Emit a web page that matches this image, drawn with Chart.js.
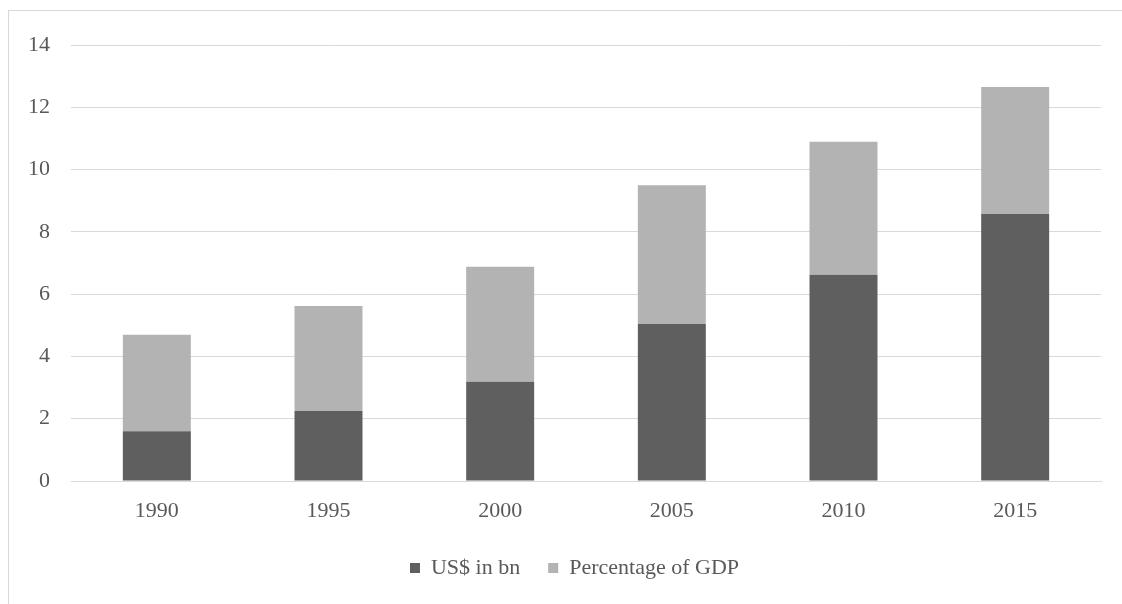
<!DOCTYPE html>
<html>
<head>
<meta charset="utf-8">
<script src="https://cdn.jsdelivr.net/npm/chart.js@4.4.1/dist/chart.umd.min.js"></script>
<style>
  html, body { margin: 0; padding: 0; background: #ffffff; }
  #wrap { position: relative; width: 1122px; height: 604px; overflow: hidden; }
  #frame { position: absolute; left: 8px; top: 10px; width: 1200px; height: 700px;
           border: 1px solid #d9d9d9; box-sizing: border-box; }
  #c { position: absolute; left: 0; top: 0; }
</style>
</head>
<body>
<div id="wrap">
  <div id="frame"></div>
  <canvas id="c" width="1122" height="604"></canvas>
</div>
<script>
// Categories and stacked series
const years = ['1990', '1995', '2000', '2005', '2010', '2015'];
const usdBn = [1.6, 2.25, 3.19, 5.04, 6.62, 8.57];
const pctGdp = [3.1, 3.37, 3.69, 4.46, 4.27, 4.08];
const yTickValues = [0, 2, 4, 6, 8, 10, 12, 14];

const FONT = '"Liberation Serif", "Times New Roman", serif';
const TEXT = '#595959';
const GRID = '#d9d9d9';

// Nudge the legend so it sits centred under the plot like the original layout
const legendShift = {
  id: 'legendShift',
  afterLayout(chart) {
    const lg = chart.legend;
    if (lg) { lg.left += 24; lg.right += 24; }
  }
};

new Chart(document.getElementById('c'), {
  type: 'bar',
  data: {
    labels: years,
    datasets: [
      { label: 'US$ in bn', data: usdBn, backgroundColor: '#5f5f5f',
        categoryPercentage: 1, barPercentage: 0.396 },
      { label: 'Percentage of GDP', data: pctGdp, backgroundColor: '#b3b3b3',
        categoryPercentage: 1, barPercentage: 0.396 }
    ]
  },
  options: {
    responsive: false,
    animation: false,
    layout: { padding: { left: 0, right: 21, top: 45, bottom: 15 } },
    plugins: {
      tooltip: { enabled: false },
      legend: {
        position: 'bottom',
        labels: {
          boxWidth: 10, boxHeight: 10, padding: 28,
          color: TEXT, font: { family: FONT, size: 22 }
        }
      }
    },
    scales: {
      x: {
        stacked: true,
        grid: { display: false, drawTicks: false },
        border: { display: true, color: GRID, width: 1 },
        ticks: { color: TEXT, font: { family: FONT, size: 22 }, padding: 17, maxRotation: 0 },
        afterFit: s => { s.height = 48; }
      },
      y: {
        stacked: true,
        min: 0, max: 14,
        afterBuildTicks: s => { s.ticks = yTickValues.map(v => ({ value: v })); },
        grid: { color: GRID, lineWidth: 1, drawTicks: false },
        border: { display: false },
        ticks: { color: TEXT, font: { family: FONT, size: 22 }, padding: 21 },
        afterFit: s => { s.width = 71; }
      }
    }
  },
  plugins: [legendShift]
});
</script>
</body>
</html>
